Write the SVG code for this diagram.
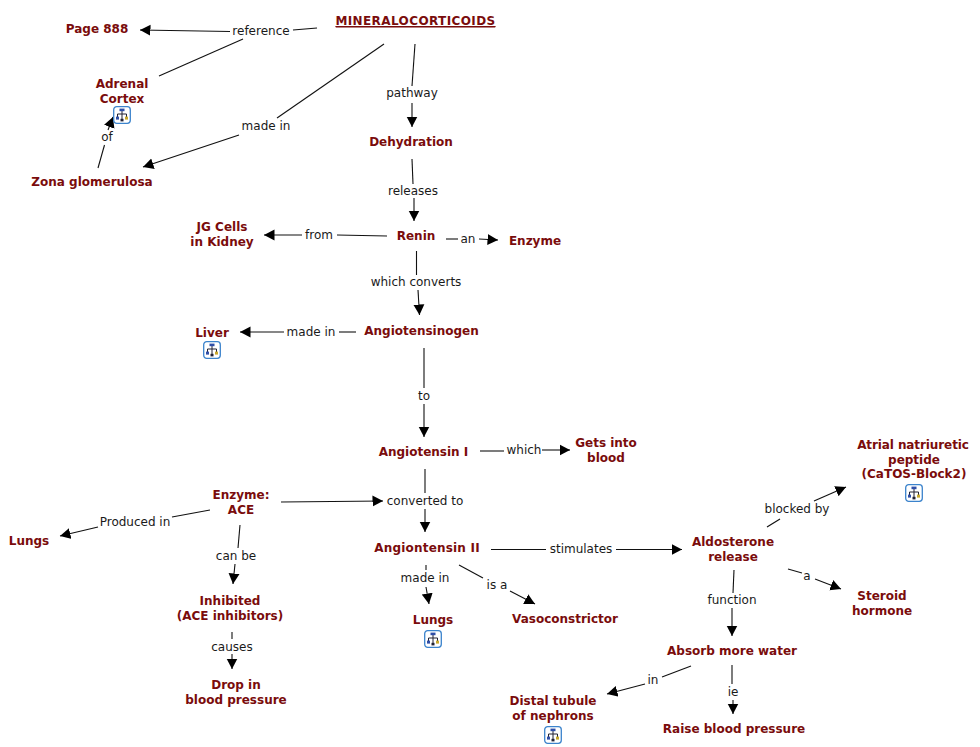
<svg xmlns="http://www.w3.org/2000/svg" width="980" height="747" viewBox="0 0 980 747">
<style>
text{font-family:"DejaVu Sans",Verdana,sans-serif;text-anchor:middle}
.n{font-size:12px;font-weight:bold;fill:#7a0c0c}
.l{font-size:12px;fill:#1a1a1a}
.c line{stroke:#111;stroke-width:1.1}
.a{marker-end:url(#arrow)}
</style>
<defs>
<marker id="arrow" markerUnits="userSpaceOnUse" markerWidth="11" markerHeight="12" refX="10.5" refY="6" orient="auto"><path d="M0 0.5L10.5 6L0 11.5Z" fill="#000"/></marker>
<symbol id="icon" viewBox="0 0 18 18"><rect x="0.7" y="0.7" width="16.6" height="16.6" rx="3" fill="#fff" stroke="#3b83cc" stroke-width="1.3"/><path d="M9 5V8M4.5 11V8H13.5V11M9 8V13" fill="none" stroke="#223" stroke-width="1"/><rect x="6.5" y="2.6" width="5" height="2.6" fill="#2f4fa8"/><rect x="3" y="10.6" width="3" height="3" fill="#2f4fa8"/><rect x="7.5" y="12.8" width="3" height="2.6" fill="#223"/><rect x="12" y="10.6" width="3" height="3" fill="#c9a92c"/></symbol>
</defs>
<rect width="980" height="747" fill="#fff"/>
<g id="connectors" class="c">
<line x1="317" y1="28" x2="293" y2="30"/><line x1="230" y1="31.5" x2="140" y2="30" class="a"/><line x1="243" y1="39" x2="159" y2="76"/>
<line x1="384" y1="44" x2="277" y2="118"/><line x1="239" y1="135" x2="143" y2="167" class="a"/>
<line x1="415" y1="44" x2="412" y2="86"/><line x1="412" y1="103" x2="412" y2="127" class="a"/>
<line x1="98" y1="168" x2="104.500" y2="145"/><line x1="108" y1="130" x2="113" y2="117" class="a"/>
<line x1="412" y1="159" x2="413" y2="184"/><line x1="414" y1="198" x2="414" y2="221" class="a"/>
<line x1="387" y1="236" x2="337" y2="235"/><line x1="302" y1="235" x2="264" y2="235" class="a"/>
<line x1="446" y1="239" x2="458" y2="239"/><line x1="479" y1="239" x2="498" y2="240" class="a"/>
<line x1="416.500" y1="251" x2="416.500" y2="275"/><line x1="418" y1="290" x2="419.500" y2="315" class="a"/>
<line x1="356" y1="332" x2="339" y2="332"/><line x1="284" y1="332" x2="240" y2="332" class="a"/>
<line x1="424" y1="348" x2="424" y2="388"/><line x1="424" y1="404" x2="424" y2="437" class="a"/>
<line x1="480" y1="451" x2="504" y2="451"/><line x1="542" y1="450" x2="570" y2="450" class="a"/>
<line x1="281" y1="502" x2="383" y2="501" class="a"/><line x1="425" y1="469" x2="425" y2="493"/><line x1="425" y1="509" x2="425" y2="532" class="a"/>
<line x1="210" y1="510" x2="172" y2="517"/><line x1="98" y1="527" x2="60" y2="536" class="a"/>
<line x1="240" y1="525" x2="238" y2="548"/><line x1="235" y1="564" x2="233" y2="584" class="a"/>
<line x1="232" y1="632" x2="232" y2="639"/><line x1="232" y1="654" x2="232" y2="669" class="a"/>
<line x1="426" y1="565" x2="426" y2="570"/><line x1="426" y1="587" x2="429" y2="604" class="a"/>
<line x1="459" y1="565" x2="483" y2="578"/><line x1="510" y1="591" x2="535" y2="604" class="a"/>
<line x1="491" y1="549.500" x2="546" y2="549.500"/><line x1="616" y1="549.500" x2="682" y2="549.500" class="a"/>
<line x1="767" y1="527" x2="780" y2="519"/><line x1="814" y1="501" x2="846" y2="487" class="a"/>
<line x1="788" y1="569" x2="802" y2="573"/><line x1="815" y1="579" x2="841" y2="589" class="a"/>
<line x1="734" y1="570" x2="733" y2="593"/><line x1="732" y1="608" x2="732" y2="636" class="a"/>
<line x1="691" y1="666" x2="662" y2="677"/><line x1="645" y1="684" x2="607" y2="694" class="a"/>
<line x1="732" y1="665" x2="732" y2="684"/><line x1="733" y1="700" x2="733" y2="714" class="a"/>
</g>
<g id="labels">
<text class="l" x="261" y="35">reference</text><text class="l" x="266" y="130">made in</text><text class="l" x="412" y="97">pathway</text><text class="l" x="107" y="141">of</text>
<text class="l" x="413" y="195">releases</text><text class="l" x="319" y="239">from</text><text class="l" x="468" y="243">an</text><text class="l" x="416" y="286">which converts</text>
<text class="l" x="311" y="336">made in</text><text class="l" x="424" y="400">to</text><text class="l" x="524" y="454">which</text><text class="l" x="425" y="505">converted to</text>
<text class="l" x="135" y="526">Produced in</text><text class="l" x="236" y="560">can be</text><text class="l" x="232" y="651">causes</text><text class="l" x="425" y="582">made in</text>
<text class="l" x="497" y="589">is a</text><text class="l" x="581" y="553">stimulates</text><text class="l" x="797" y="513">blocked by</text><text class="l" x="807" y="580">a</text>
<text class="l" x="732" y="604">function</text><text class="l" x="653" y="684">in</text><text class="l" x="733" y="696">ie</text>
</g>
<g id="n-mineralocorticoids"><line x1="336" y1="27.500" x2="495" y2="27.500" stroke="#c9a0a0" stroke-width="1"/><text class="n" x="415.500" y="25" letter-spacing="0.4" text-decoration="underline">MINERALOCORTICOIDS</text></g>
<g id="n-page888"><text class="n" x="97" y="33">Page 888</text></g>
<g id="n-adrenal"><text class="n" x="122" y="88">Adrenal</text><text class="n" x="122" y="103">Cortex</text><use href="#icon" x="113" y="106" width="18" height="18"/></g>
<g id="n-zona"><text class="n" x="92" y="186">Zona glomerulosa</text></g>
<g id="n-dehydration"><text class="n" x="411" y="146">Dehydration</text></g>
<g id="n-jg"><text class="n" x="222" y="231">JG Cells</text><text class="n" x="222" y="246">in Kidney</text></g>
<g id="n-renin"><text class="n" x="416" y="240">Renin</text></g>
<g id="n-enzyme"><text class="n" x="535" y="245">Enzyme</text></g>
<g id="n-liver"><text class="n" x="212" y="337">Liver</text><use href="#icon" x="203" y="341" width="18" height="18"/></g>
<g id="n-angiotensinogen"><text class="n" x="421.500" y="335">Angiotensinogen</text></g>
<g id="n-ang1"><text class="n" x="423.500" y="456">Angiotensin I</text></g>
<g id="n-blood"><text class="n" x="606" y="447">Gets into</text><text class="n" x="606" y="462">blood</text></g>
<g id="n-ace"><text class="n" x="241" y="499">Enzyme:</text><text class="n" x="241" y="514">ACE</text></g>
<g id="n-lungs1"><text class="n" x="29" y="545">Lungs</text></g>
<g id="n-ang2"><text class="n" x="427" y="552" letter-spacing="0.2">Angiontensin II</text></g>
<g id="n-aldo"><text class="n" x="733" y="546">Aldosterone</text><text class="n" x="733" y="561">release</text></g>
<g id="n-atrial"><text class="n" x="913" y="449" letter-spacing="-0.1">Atrial natriuretic</text><text class="n" x="914" y="464">peptide</text><text class="n" x="914" y="478">(CaTOS-Block2)</text><use href="#icon" x="905" y="484" width="18" height="18"/></g>
<g id="n-steroid"><text class="n" x="882" y="600">Steroid</text><text class="n" x="882" y="615">hormone</text></g>
<g id="n-inhibited"><text class="n" x="230" y="605">Inhibited</text><text class="n" x="230" y="620">(ACE inhibitors)</text></g>
<g id="n-lungs2"><text class="n" x="433" y="624">Lungs</text><use href="#icon" x="424" y="630" width="18" height="18"/></g>
<g id="n-vaso"><text class="n" x="565" y="623">Vasoconstrictor</text></g>
<g id="n-drop"><text class="n" x="236" y="689">Drop in</text><text class="n" x="236" y="704">blood pressure</text></g>
<g id="n-absorb"><text class="n" x="732" y="655">Absorb more water</text></g>
<g id="n-distal"><text class="n" x="553" y="705">Distal tubule</text><text class="n" x="553" y="720">of nephrons</text><use href="#icon" x="544" y="726" width="18" height="18"/></g>
<g id="n-raise"><text class="n" x="734" y="733">Raise blood pressure</text></g>
</svg>
